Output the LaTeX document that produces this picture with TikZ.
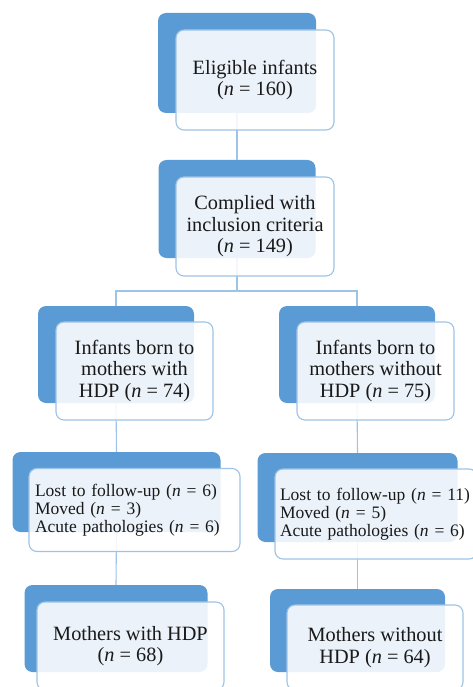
\documentclass[tikz,border=0pt]{standalone}
\usepackage{fontspec}
\setmainfont{Liberation Serif}
\definecolor{boxblue}{HTML}{5B9BD5}
\definecolor{lineblue}{HTML}{9DC3E6}

\begin{document}
\begin{tikzpicture}[x=1pt,y=-1pt,
  back/.style={fill=boxblue,draw=none,rounded corners=8pt,inner sep=0pt},
  front/.style={fill=white,fill opacity=0.88,text opacity=1,draw=lineblue,line width=1.1pt,
    rounded corners=8pt,inner sep=0pt,font=\fontsize{20.3}{21.5}\selectfont,text=black!90},
  listbox/.style={front,align=left,inner xsep=6pt,font=\fontsize{17.5}{18}\selectfont},
  link/.style={draw=lineblue,line width=1.1pt}]
\useasboundingbox (0,0) rectangle (473,687);
\clip (0,0) rectangle (473,687);
\node[back,minimum width=158,minimum height=100] (b1) at (237,63) {};
\node[back,minimum width=157,minimum height=98] (b2) at (237,209) {};
\node[back,minimum width=156,minimum height=97] (b3) at (116,354.5) {};
\node[back,minimum width=156,minimum height=97] (b4) at (357,354.5) {};
\node[back,minimum width=208,minimum height=80] (b5) at (116.5,492) {};
\node[back,minimum width=200,minimum height=89] (b6) at (357.5,497.5) {};
\node[back,minimum width=183,minimum height=87] (b7) at (116,628.5) {};
\node[back,minimum width=175,minimum height=83] (b8) at (357.5,630.5) {};
\coordinate (split) at (237,291);
\draw[link] (b1.south) -- (b2.north);
\draw[link] (b2.south) -- (split) -| (b3.north);
\draw[link] (split) -| (b4.north);
\draw[link] (b3.south) -- (b5.north);
\draw[link] (b4.south) -- (b6.north);
\draw[link] (b5.south) -- (b7.north);
\draw[link] (b6.south) -- (b8.north);
\node[front,align=center,minimum width=158,minimum height=100] (f1) at (255,80)
  {Eligible infants\\(\textit{n} = 160)};
\node[front,align=center,minimum width=158,minimum height=99] (f2) at (255,226.5)
  {Complied with\\inclusion criteria\\(\textit{n} = 149)};
\node[front,align=center,minimum width=157,minimum height=98] (f3) at (134.5,371)
  {Infants born to\\mothers with\\HDP (\textit{n} = 74)};
\node[front,align=center,minimum width=157,minimum height=98] (f4) at (375.5,371)
  {Infants born to\\mothers without\\HDP (\textit{n} = 75)};
\node[listbox,text width=199,minimum height=83] (f5) at (134.5,510)
  {Lost to follow-up (\textit{n} = 6)\\Moved (\textit{n} = 3)\\Acute pathologies (\textit{n} = 6)};
\node[listbox,inner xsep=5pt,text width=192,minimum height=90] (f6) at (376,514)
  {Lost to follow-up (\textit{n} = 11)\\Moved (\textit{n} = 5)\\Acute pathologies (\textit{n} = 6)};
\node[front,align=center,minimum width=187,minimum height=88] (f7) at (130.5,646)
  {Mothers with HDP\\(\textit{n} = 68)};
\node[front,align=center,minimum width=176,minimum height=85] (f8) at (375,647.5)
  {Mothers without\\HDP (\textit{n} = 64)};
\end{tikzpicture}
\end{document}
